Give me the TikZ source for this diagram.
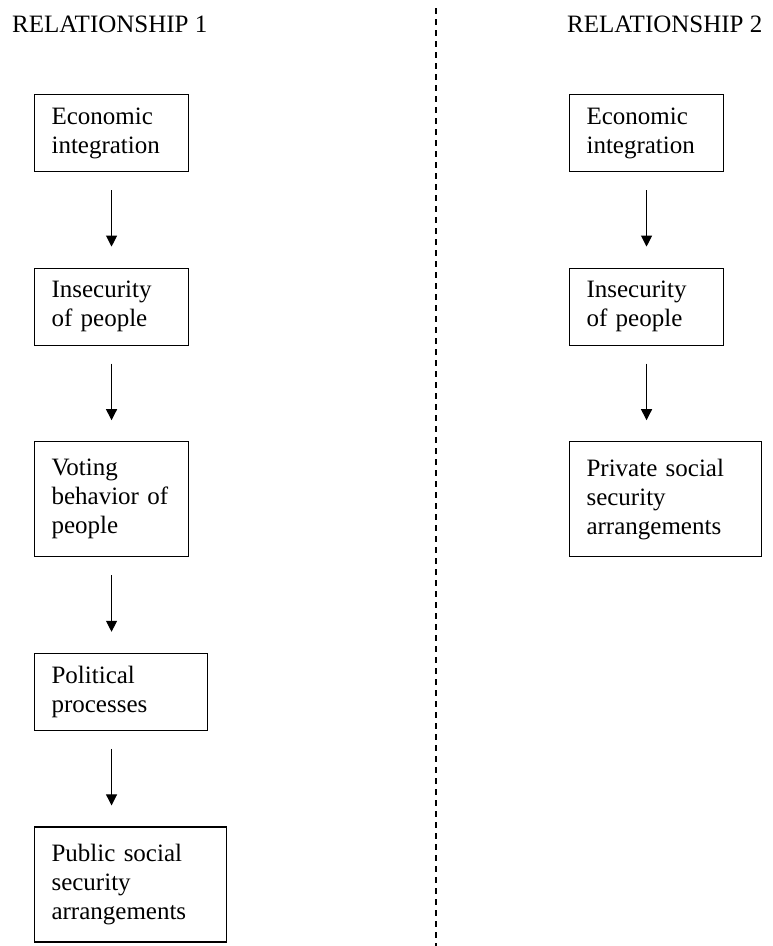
\documentclass[tikz,border=0pt]{standalone}
\usepackage{fontspec}
\setmainfont{Liberation Serif}
\usetikzlibrary{arrows.meta, positioning}
\tikzset{
  flowbox/.style={rectangle, draw=black, line width=1.1pt, align=left,
    text width=120pt, inner xsep=17pt, inner ysep=0pt, minimum height=77pt,
    font={\fontsize{25}{29}\selectfont}},
  tallbox/.style={flowbox, minimum height=115pt},
  arrow/.style={-{Triangle[width=11pt,length=11pt]}, line width=1pt,
    shorten <=18pt, shorten >=21pt},
  title/.style={anchor=base west, inner sep=0pt, font={\fontsize{25}{29}\selectfont}},
  divider/.style={line width=1.2pt, dash pattern=on 6pt off 5pt}
}
\begin{document}
\begin{tikzpicture}[x=1pt, y=-1pt, node distance=95.5pt]
  \useasboundingbox (0,0) rectangle (772,946);

  % Titles
  \node[title] (t1) at (12,32) {RELATIONSHIP 1};
  \node[title] (t2) at (567,32) {RELATIONSHIP 2};

  % Divider
  \coordinate (dtop) at (436,8);
  \coordinate (dbot) at (436,946);
  \draw[divider] (dtop) -- (dbot);

  % Relationship 1 (boxes aligned on the left)
  \node[flowbox, anchor=north west] (l1) at (34,94) {Economic\\integration};
  \node[flowbox, below=of l1.south west, anchor=north west] (l2) {Insecurity\\of people};
  \node[tallbox, below=of l2.south west, anchor=north west] (l3) {Voting\\behavior of\\people};
  \node[flowbox, text width=139pt, below=of l3.south west, anchor=north west] (l4) {Political\\processes};
  \node[tallbox, text width=158pt, below=of l4.south west, anchor=north west] (l5) {Public social\\security\\arrangements};

  % Relationship 2
  \node[flowbox, anchor=north west] (r1) at (569,94) {Economic\\integration};
  \node[flowbox, below=of r1.south west, anchor=north west] (r2) {Insecurity\\of people};
  \node[tallbox, text width=158pt, below=of r2.south west, anchor=north west] (r3) {Private social\\security\\arrangements};

  % Connections
  \draw[arrow] (l1.south) -- (l2.north);
  \draw[arrow] (l2.south) -- (l3.north);
  \draw[arrow] (l3.south) -- (l4.north -| l3.south);
  \draw[arrow] (l4.south -| l3.south) -- (l5.north -| l3.south);
  \draw[arrow] (r1.south) -- (r2.north);
  \draw[arrow] (r2.south) -- (r3.north -| r2.south);
\end{tikzpicture}
\end{document}
